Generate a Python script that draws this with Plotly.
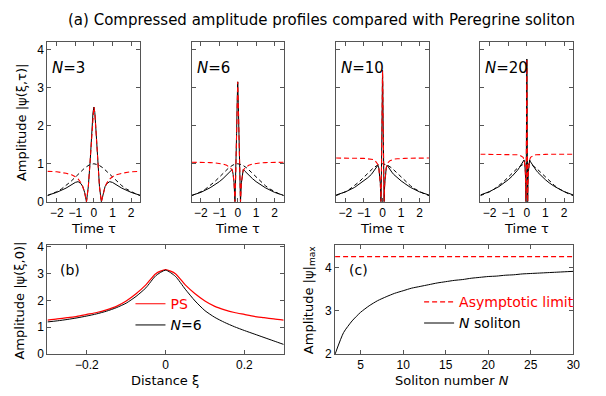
import plotly.graph_objects as go

# ---------------- data ----------------
# (a) initial sech profile (black dashed), common to all four panels
tau_sech = [-2.5, -2.25, -2.0, -1.75, -1.5, -1.25, -1.0, -0.75, -0.5, -0.25, 0.0,
            0.25, 0.5, 0.75, 1.0, 1.25, 1.5, 1.75, 2.0, 2.25, 2.5]
amp_sech = [0.163, 0.209, 0.266, 0.337, 0.425, 0.530, 0.648, 0.772, 0.887, 0.970, 1.0,
            0.970, 0.887, 0.772, 0.648, 0.530, 0.425, 0.337, 0.266, 0.209, 0.163]

# N = 3
tau_n3 = [-2.5, -2.0, -1.5, -1.2, -1.0, -0.85, -0.7, -0.6, -0.5, -0.4, -0.3, -0.2, -0.15, -0.1, -0.05, 0.0,
          0.05, 0.1, 0.15, 0.2, 0.3, 0.4, 0.5, 0.6, 0.7, 0.85, 1.0, 1.2, 1.5, 2.0, 2.5]
sol_n3 = [0.17, 0.25, 0.36, 0.45, 0.51, 0.53, 0.48, 0.40, 0.25, 0.00, 0.40, 1.07, 1.51, 1.97, 2.34, 2.49,
          2.34, 1.97, 1.51, 1.07, 0.40, 0.00, 0.25, 0.40, 0.48, 0.53, 0.51, 0.45, 0.36, 0.25, 0.17]
ps_n3 = [0.80, 0.79, 0.75, 0.71, 0.66, 0.60, 0.50, 0.40, 0.25, 0.00, 0.40, 1.07, 1.51, 1.97, 2.34, 2.49,
         2.34, 1.97, 1.51, 1.07, 0.40, 0.00, 0.25, 0.40, 0.50, 0.60, 0.66, 0.71, 0.75, 0.79, 0.80]

# N = 6
tau_n6 = [-2.5, -2.0, -1.5, -1.2, -1.0, -0.8, -0.6, -0.5, -0.4, -0.3, -0.25, -0.2, -0.15, -0.12, -0.09, -0.06, -0.03, 0.0,
          0.03, 0.06, 0.09, 0.12, 0.15, 0.2, 0.25, 0.3, 0.4, 0.5, 0.6, 0.8, 1.0, 1.2, 1.5, 2.0, 2.5]
sol_n6 = [0.17, 0.25, 0.37, 0.46, 0.53, 0.61, 0.70, 0.75, 0.80, 0.85, 0.72, 0.50, 0.00, 0.45, 1.05, 1.80, 2.60, 3.15,
          2.60, 1.80, 1.05, 0.45, 0.00, 0.50, 0.72, 0.85, 0.80, 0.75, 0.70, 0.61, 0.53, 0.46, 0.37, 0.25, 0.17]
ps_n6 = [1.04, 1.04, 1.03, 1.02, 1.01, 0.99, 0.96, 0.93, 0.89, 0.83, 0.72, 0.50, 0.00, 0.45, 1.05, 1.80, 2.60, 3.15,
         2.60, 1.80, 1.05, 0.45, 0.00, 0.50, 0.72, 0.83, 0.89, 0.93, 0.96, 0.99, 1.01, 1.02, 1.03, 1.04, 1.04]

# N = 10
tau_n10 = [-2.5, -2.0, -1.5, -1.2, -1.0, -0.8, -0.6, -0.5, -0.4, -0.3, -0.25, -0.2, -0.15, -0.12, -0.1, -0.085, -0.07, -0.05, -0.03, -0.015, 0.0,
           0.015, 0.03, 0.05, 0.07, 0.085, 0.1, 0.12, 0.15, 0.2, 0.25, 0.3, 0.4, 0.5, 0.6, 0.8, 1.0, 1.2, 1.5, 2.0, 2.5]
sol_n10 = [0.18, 0.26, 0.38, 0.48, 0.55, 0.63, 0.72, 0.78, 0.85, 0.92, 0.96, 0.89, 0.70, 0.49, 0.26, 0.00, 0.37, 1.10, 2.20, 3.05, 3.45,
           3.05, 2.20, 1.10, 0.37, 0.00, 0.26, 0.49, 0.70, 0.89, 0.96, 0.92, 0.85, 0.78, 0.72, 0.63, 0.55, 0.48, 0.38, 0.26, 0.18]
ps_n10 = [1.15, 1.15, 1.145, 1.14, 1.14, 1.13, 1.12, 1.11, 1.08, 1.03, 0.98, 0.89, 0.70, 0.49, 0.26, 0.00, 0.37, 1.10, 2.20, 3.05, 3.45,
          3.05, 2.20, 1.10, 0.37, 0.00, 0.26, 0.49, 0.70, 0.89, 0.98, 1.03, 1.08, 1.11, 1.12, 1.13, 1.14, 1.14, 1.145, 1.15, 1.15]

# N = 20
tau_n20 = [-2.5, -2.0, -1.5, -1.2, -1.0, -0.8, -0.6, -0.5, -0.4, -0.3, -0.25, -0.2, -0.15, -0.12, -0.1, -0.08, -0.06, -0.045, -0.035, -0.025, -0.015, 0.0,
           0.015, 0.025, 0.035, 0.045, 0.06, 0.08, 0.1, 0.12, 0.15, 0.2, 0.25, 0.3, 0.4, 0.5, 0.6, 0.8, 1.0, 1.2, 1.5, 2.0, 2.5]
sol_n20 = [0.18, 0.27, 0.40, 0.50, 0.58, 0.67, 0.77, 0.83, 0.90, 0.97, 1.01, 1.05, 1.10, 1.03, 0.93, 0.77, 0.46, 0.00, 0.53, 1.35, 2.50, 3.75,
           2.50, 1.35, 0.53, 0.00, 0.46, 0.77, 0.93, 1.03, 1.10, 1.05, 1.01, 0.97, 0.90, 0.83, 0.77, 0.67, 0.58, 0.50, 0.40, 0.27, 0.18]
ps_n20 = [1.25, 1.25, 1.25, 1.25, 1.245, 1.245, 1.24, 1.235, 1.23, 1.21, 1.19, 1.17, 1.10, 1.03, 0.93, 0.77, 0.46, 0.00, 0.53, 1.35, 2.50, 3.75,
          2.50, 1.35, 0.53, 0.00, 0.46, 0.77, 0.93, 1.03, 1.10, 1.17, 1.19, 1.21, 1.23, 1.235, 1.24, 1.245, 1.245, 1.25, 1.25, 1.25, 1.25]

panel_labels = ["3", "6", "10", "20"]

# (b) amplitude at tau = 0 versus distance
xi = [-0.3, -0.275, -0.25, -0.225, -0.2, -0.175, -0.15, -0.125, -0.1, -0.075, -0.05, -0.025, 0.0,
      0.025, 0.05, 0.075, 0.1, 0.125, 0.15, 0.175, 0.2, 0.225, 0.25, 0.275, 0.3]
amp_ps = [1.27, 1.31, 1.36, 1.41, 1.48, 1.55, 1.65, 1.78, 1.98, 2.25, 2.58, 3.00, 3.15,
          3.00, 2.58, 2.25, 1.98, 1.78, 1.65, 1.55, 1.48, 1.41, 1.36, 1.31, 1.27]
amp_n6 = [1.20, 1.24, 1.29, 1.35, 1.42, 1.50, 1.60, 1.73, 1.90, 2.15, 2.47, 2.92, 3.13,
          2.90, 2.42, 1.98, 1.62, 1.37, 1.18, 1.02, 0.88, 0.75, 0.62, 0.49, 0.36]

# (c) maximum amplitude versus soliton number
soliton_n = [2, 3, 4, 5, 6, 7, 8, 9, 10, 11, 12, 13, 14, 15, 16, 17, 18, 19, 20,
             21, 22, 23, 24, 25, 26, 27, 28, 29, 30]
amp_max = [2.00, 2.50, 2.77, 2.97, 3.12, 3.24, 3.33, 3.41, 3.47, 3.53, 3.57, 3.61, 3.65, 3.68, 3.71,
           3.73, 3.76, 3.78, 3.80, 3.81, 3.83, 3.84, 3.86, 3.87, 3.88, 3.89, 3.90, 3.91, 3.92]
asym_n = [2, 30]
asym_val = [4.26, 4.26]

# ---------------- figure ----------------
W, H = 606, 396
TXT = "DejaVu Sans"
NUM = "Liberation Sans"
FRAME = "#555555"


def xd(a, b):
    return [a / W, b / W]


def yd(top, bottom):
    return [1 - bottom / H, 1 - top / H]


def axis(domain, rng, tickvals, labels=True, anchor=None):
    return dict(domain=domain, range=rng, tickvals=tickvals, showticklabels=labels,
                ticks="inside", ticklen=4, tickwidth=1, tickcolor=FRAME,
                showline=True, linecolor=FRAME, linewidth=1, mirror="ticks",
                showgrid=False, zeroline=False, anchor=anchor,
                tickfont=dict(family=NUM, size=12, color="black"))


def note(x, y, text, size=13, xanchor="center", angle=0):
    return dict(x=x / W, y=1 - y / H, xref="paper", yref="paper", text=text, showarrow=False,
                xanchor=xanchor, yanchor="middle", textangle=angle,
                font=dict(family=TXT, size=size, color="black"))


fig = go.Figure()

top_sets = [(tau_n3, sol_n3, ps_n3), (tau_n6, sol_n6, ps_n6),
            (tau_n10, sol_n10, ps_n10), (tau_n20, sol_n20, ps_n20)]
top_x = [(48, 142), (194, 287), (340, 434), (486, 580)]

layout = {}
annotations = []
for i, (t, s, p) in enumerate(top_sets):
    k = i + 1
    xa, ya = f"x{k}", f"y{k}"
    fig.add_trace(go.Scatter(x=tau_sech, y=amp_sech, mode="lines", xaxis=xa, yaxis=ya,
                             line=dict(color="black", width=1, dash="4px,3px"), showlegend=False))
    fig.add_trace(go.Scatter(x=t, y=s, mode="lines", xaxis=xa, yaxis=ya,
                             line=dict(color="black", width=1), showlegend=False))
    fig.add_trace(go.Scatter(x=t, y=p, mode="lines", xaxis=xa, yaxis=ya,
                             line=dict(color="red", width=1.1, dash="5px,3px"), showlegend=False))
    name = "xaxis" if k == 1 else f"xaxis{k}"
    yname = "yaxis" if k == 1 else f"yaxis{k}"
    layout[name] = axis(xd(*top_x[i]), [-2.5, 2.5], [-2, -1, 0, 1, 2], True, ya)
    layout[yname] = axis(yd(38, 203), [0, 4.2], [0, 1, 2, 3, 4], k == 1, xa)
    cx = (top_x[i][0] + top_x[i][1]) / 2
    annotations.append(note(cx, 230, "Time τ"))
    annotations.append(note(top_x[i][0] + 3, 65, f"<i>N</i>={panel_labels[i]}", size=15, xanchor="left"))

# (b)
fig.add_trace(go.Scatter(x=xi, y=amp_ps, mode="lines", xaxis="x5", yaxis="y5", name="<span style='color:red'>PS</span>",
                         line=dict(color="red", width=1.2, shape="spline", smoothing=0.6), legend="legend"))
fig.add_trace(go.Scatter(x=xi, y=amp_n6, mode="lines", xaxis="x5", yaxis="y5", name="<i>N</i>=6",
                         line=dict(color="black", width=1, shape="spline", smoothing=0.6), legend="legend"))
layout["xaxis5"] = axis(xd(48, 287), [-0.3, 0.3], [-0.2, 0, 0.2], True, "y5")
layout["yaxis5"] = axis(yd(248, 360), [0, 4.05], [0, 1, 2, 3, 4], True, "x5")

# (c)
fig.add_trace(go.Scatter(x=asym_n, y=asym_val, mode="lines", xaxis="x6", yaxis="y6",
                         name="<span style='color:red'>Asymptotic limit</span>",
                         line=dict(color="red", width=1.2, dash="5px,3px"), legend="legend2"))
fig.add_trace(go.Scatter(x=soliton_n, y=amp_max, mode="lines", xaxis="x6", yaxis="y6", name="<i>N</i> soliton",
                         line=dict(color="black", width=1, shape="spline", smoothing=0.6), legend="legend2"))
layout["xaxis6"] = axis(xd(339, 580), [2, 30], [5, 10, 15, 20, 25, 30], True, "y6")
layout["yaxis6"] = axis(yd(248, 360), [2, 4.52], [2, 3, 4], True, "x6")

annotations += [
    note(22, 121, "Amplitude |ψ(ξ,τ)|", angle=-90),
    note(20, 305, "Amplitude |ψ(ξ,0)|", angle=-90),
    note(313, 304, "Amplitude |ψ|<sub>max</sub>", angle=-90),
    note(167, 387, "Distance ξ"),
    note(457, 387, "Soliton number <i>N</i>"),
    note(59, 273, "(b)", size=14, xanchor="left"),
    note(351, 273, "(c)", size=14, xanchor="left"),
    note(325, 15, "(a) Compressed amplitude profiles compared with Peregrine soliton", size=15),
]

fig.update_layout(
    width=W, height=H, margin=dict(l=0, r=0, t=0, b=0, pad=0),
    paper_bgcolor="white", plot_bgcolor="white",
    annotations=annotations,
    legend=dict(x=132 / W, y=1 - 292 / H, xanchor="left", yanchor="top", bgcolor="rgba(0,0,0,0)",
                font=dict(family=TXT, size=14, color="black"), itemwidth=30, tracegroupgap=0),
    legend2=dict(x=424 / W, y=1 - 290 / H, xanchor="left", yanchor="top", bgcolor="rgba(0,0,0,0)",
                 font=dict(family=TXT, size=14, color="black"), itemwidth=30, tracegroupgap=0),
    **layout,
)

fig.write_html("out.html", config={"displayModeBar": False},
               post_script="document.body.style.margin='0';")
